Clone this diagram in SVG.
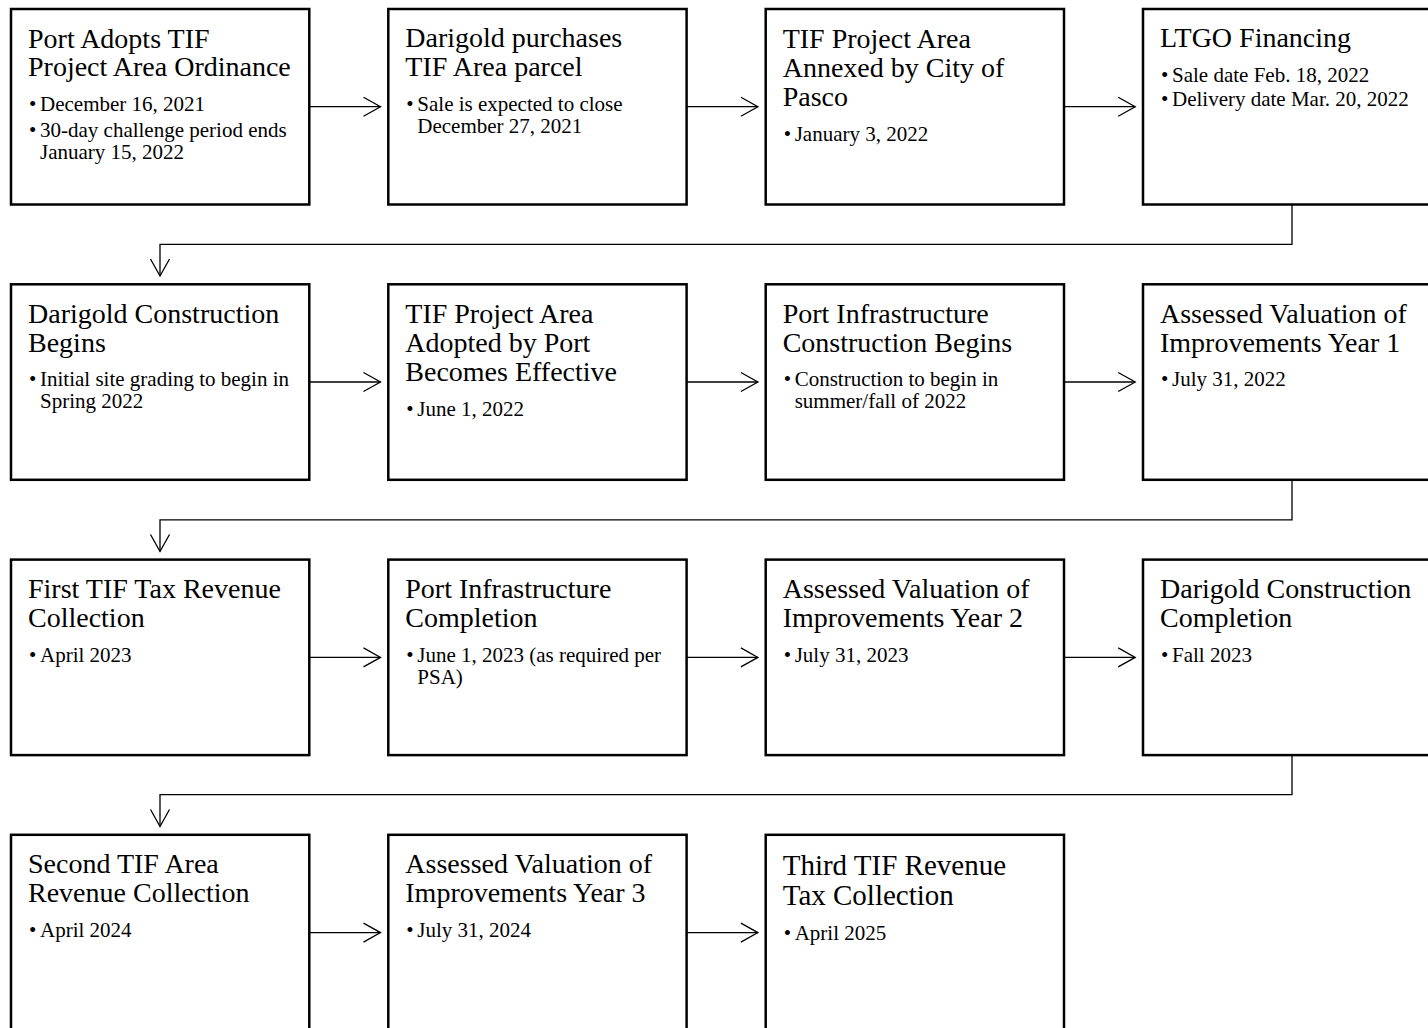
<svg xmlns="http://www.w3.org/2000/svg" width="1428" height="1028" viewBox="0 0 1428 1028">
<style>
.box{fill:#fff;stroke:#000;stroke-width:2.5}
.t{font-family:"Liberation Serif","Times New Roman",serif;font-size:28px;fill:#000}
.t29{font-family:"Liberation Serif","Times New Roman",serif;font-size:29px;fill:#000}
.b{font-family:"Liberation Serif","Times New Roman",serif;font-size:21px;fill:#000}
.c{fill:none;stroke:#000;stroke-width:1.3}
</style>
<defs>
<marker id="arr" markerUnits="userSpaceOnUse" markerWidth="22" markerHeight="24" viewBox="0 0 22 24" refX="19" refY="12" orient="auto">
<path d="M2,2.5 L19,12 L2,21.5" fill="none" stroke="#000" stroke-width="1.3"/>
</marker>
</defs>
<rect width="1428" height="1028" fill="#fff"/>

<g id="connectors">
<path class="c" d="M309.3,106.7 H380.5" marker-end="url(#arr)"/>
<path class="c" d="M686.6,106.7 H757.9" marker-end="url(#arr)"/>
<path class="c" d="M1064,106.7 H1135.2" marker-end="url(#arr)"/>
<path class="c" d="M1292,204.5 V244.4 H160 V276" marker-end="url(#arr)"/>
<path class="c" d="M309.3,382 H380.5" marker-end="url(#arr)"/>
<path class="c" d="M686.6,382 H757.9" marker-end="url(#arr)"/>
<path class="c" d="M1064,382 H1135.2" marker-end="url(#arr)"/>
<path class="c" d="M1292,480 V519.8 H160 V551.5" marker-end="url(#arr)"/>
<path class="c" d="M309.3,657.4 H380.5" marker-end="url(#arr)"/>
<path class="c" d="M686.6,657.4 H757.9" marker-end="url(#arr)"/>
<path class="c" d="M1064,657.4 H1135.2" marker-end="url(#arr)"/>
<path class="c" d="M1292,755.3 V794.6 H160 V826.5" marker-end="url(#arr)"/>
<path class="c" d="M309.3,932.6 H380.5" marker-end="url(#arr)"/>
<path class="c" d="M686.6,932.6 H757.9" marker-end="url(#arr)"/>
</g>

<!-- Row 1 -->
<g id="n1">
<rect class="box" x="11" y="9" width="298.3" height="195.5"/>
<text class="t" x="28" y="47.7">Port Adopts TIF</text>
<text class="t" x="28" y="76.2">Project Area Ordinance</text>
<text class="b" x="29" y="111">•</text><text class="b" x="40" y="111">December 16, 2021</text>
<text class="b" x="29" y="136.7">•</text><text class="b" x="40" y="136.7">30-day challenge period ends</text>
<text class="b" x="40" y="158.7">January 15, 2022</text>
</g>
<g id="n2">
<rect class="box" x="388.3" y="9" width="298.3" height="195.5"/>
<text class="t" x="405.3" y="47.2">Darigold purchases</text>
<text class="t" x="405.3" y="75.5">TIF Area parcel</text>
<text class="b" x="406.3" y="111">•</text><text class="b" x="417.3" y="111">Sale is expected to close</text>
<text class="b" x="417.3" y="133.3">December 27, 2021</text>
</g>
<g id="n3">
<rect class="box" x="765.7" y="9" width="298.3" height="195.5"/>
<text class="t" x="782.7" y="47.7">TIF Project Area</text>
<text class="t" x="782.7" y="76.7">Annexed by City of</text>
<text class="t" x="782.7" y="105.7">Pasco</text>
<text class="b" x="783.7" y="140.5">•</text><text class="b" x="794.7" y="140.5">January 3, 2022</text>
</g>
<g id="n4">
<rect class="box" x="1143" y="9" width="298.3" height="195.5"/>
<text class="t" x="1160" y="47.2">LTGO Financing</text>
<text class="b" x="1161" y="81.7">•</text><text class="b" x="1172" y="81.7">Sale date Feb. 18, 2022</text>
<text class="b" x="1161" y="106">•</text><text class="b" x="1172" y="106">Delivery date Mar. 20, 2022</text>
</g>

<!-- Row 2 -->
<g id="n5">
<rect class="box" x="11" y="284.3" width="298.3" height="195.5"/>
<text class="t" x="28" y="323.2">Darigold Construction</text>
<text class="t" x="28" y="351.7">Begins</text>
<text class="b" x="29" y="386.3">•</text><text class="b" x="40" y="386.3">Initial site grading to begin in</text>
<text class="b" x="40" y="408.3">Spring 2022</text>
</g>
<g id="n6">
<rect class="box" x="388.3" y="284.3" width="298.3" height="195.5"/>
<text class="t" x="405.3" y="323.2">TIF Project Area</text>
<text class="t" x="405.3" y="352.2">Adopted by Port</text>
<text class="t" x="405.3" y="381.2">Becomes Effective</text>
<text class="b" x="406.3" y="416">•</text><text class="b" x="417.3" y="416">June 1, 2022</text>
</g>
<g id="n7">
<rect class="box" x="765.7" y="284.3" width="298.3" height="195.5"/>
<text class="t" x="782.7" y="323.3">Port Infrastructure</text>
<text class="t" x="782.7" y="351.7">Construction Begins</text>
<text class="b" x="783.7" y="386.3">•</text><text class="b" x="794.7" y="386.3">Construction to begin in</text>
<text class="b" x="794.7" y="408.3">summer/fall of 2022</text>
</g>
<g id="n8">
<rect class="box" x="1143" y="284.3" width="298.3" height="195.5"/>
<text class="t" x="1160" y="323.3">Assessed Valuation of</text>
<text class="t" x="1160" y="351.7">Improvements Year 1</text>
<text class="b" x="1161" y="386.3">•</text><text class="b" x="1172" y="386.3">July 31, 2022</text>
</g>

<!-- Row 3 -->
<g id="n9">
<rect class="box" x="11" y="559.6" width="298.3" height="195.5"/>
<text class="t" x="28" y="598.3">First TIF Tax Revenue</text>
<text class="t" x="28" y="626.8">Collection</text>
<text class="b" x="29" y="661.6">•</text><text class="b" x="40" y="661.6">April 2023</text>
</g>
<g id="n10">
<rect class="box" x="388.3" y="559.6" width="298.3" height="195.5"/>
<text class="t" x="405.3" y="598.3">Port Infrastructure</text>
<text class="t" x="405.3" y="626.8">Completion</text>
<text class="b" x="406.3" y="661.6">•</text><text class="b" x="417.3" y="661.6">June 1, 2023 (as required per</text>
<text class="b" x="417.3" y="683.8">PSA)</text>
</g>
<g id="n11">
<rect class="box" x="765.7" y="559.6" width="298.3" height="195.5"/>
<text class="t" x="782.7" y="598.3">Assessed Valuation of</text>
<text class="t" x="782.7" y="626.8">Improvements Year 2</text>
<text class="b" x="783.7" y="661.6">•</text><text class="b" x="794.7" y="661.6">July 31, 2023</text>
</g>
<g id="n12">
<rect class="box" x="1143" y="559.6" width="298.3" height="195.5"/>
<text class="t" x="1160" y="598.3">Darigold Construction</text>
<text class="t" x="1160" y="626.8">Completion</text>
<text class="b" x="1161" y="661.6">•</text><text class="b" x="1172" y="661.6">Fall 2023</text>
</g>

<!-- Row 4 -->
<g id="n13">
<rect class="box" x="11" y="834.8" width="298.3" height="195.5"/>
<text class="t" x="28" y="873.3">Second TIF Area</text>
<text class="t" x="28" y="901.8">Revenue Collection</text>
<text class="b" x="29" y="936.8">•</text><text class="b" x="40" y="936.8">April 2024</text>
</g>
<g id="n14">
<rect class="box" x="388.3" y="834.8" width="298.3" height="195.5"/>
<text class="t" x="405.3" y="873.3">Assessed Valuation of</text>
<text class="t" x="405.3" y="901.8">Improvements Year 3</text>
<text class="b" x="406.3" y="936.8">•</text><text class="b" x="417.3" y="936.8">July 31, 2024</text>
</g>
<g id="n15">
<rect class="box" x="765.7" y="834.8" width="298.3" height="195.5"/>
<text class="t29" x="782.7" y="875">Third TIF Revenue</text>
<text class="t29" x="782.7" y="905">Tax Collection</text>
<text class="b" x="783.7" y="940">•</text><text class="b" x="794.7" y="940">April 2025</text>
</g>
</svg>
